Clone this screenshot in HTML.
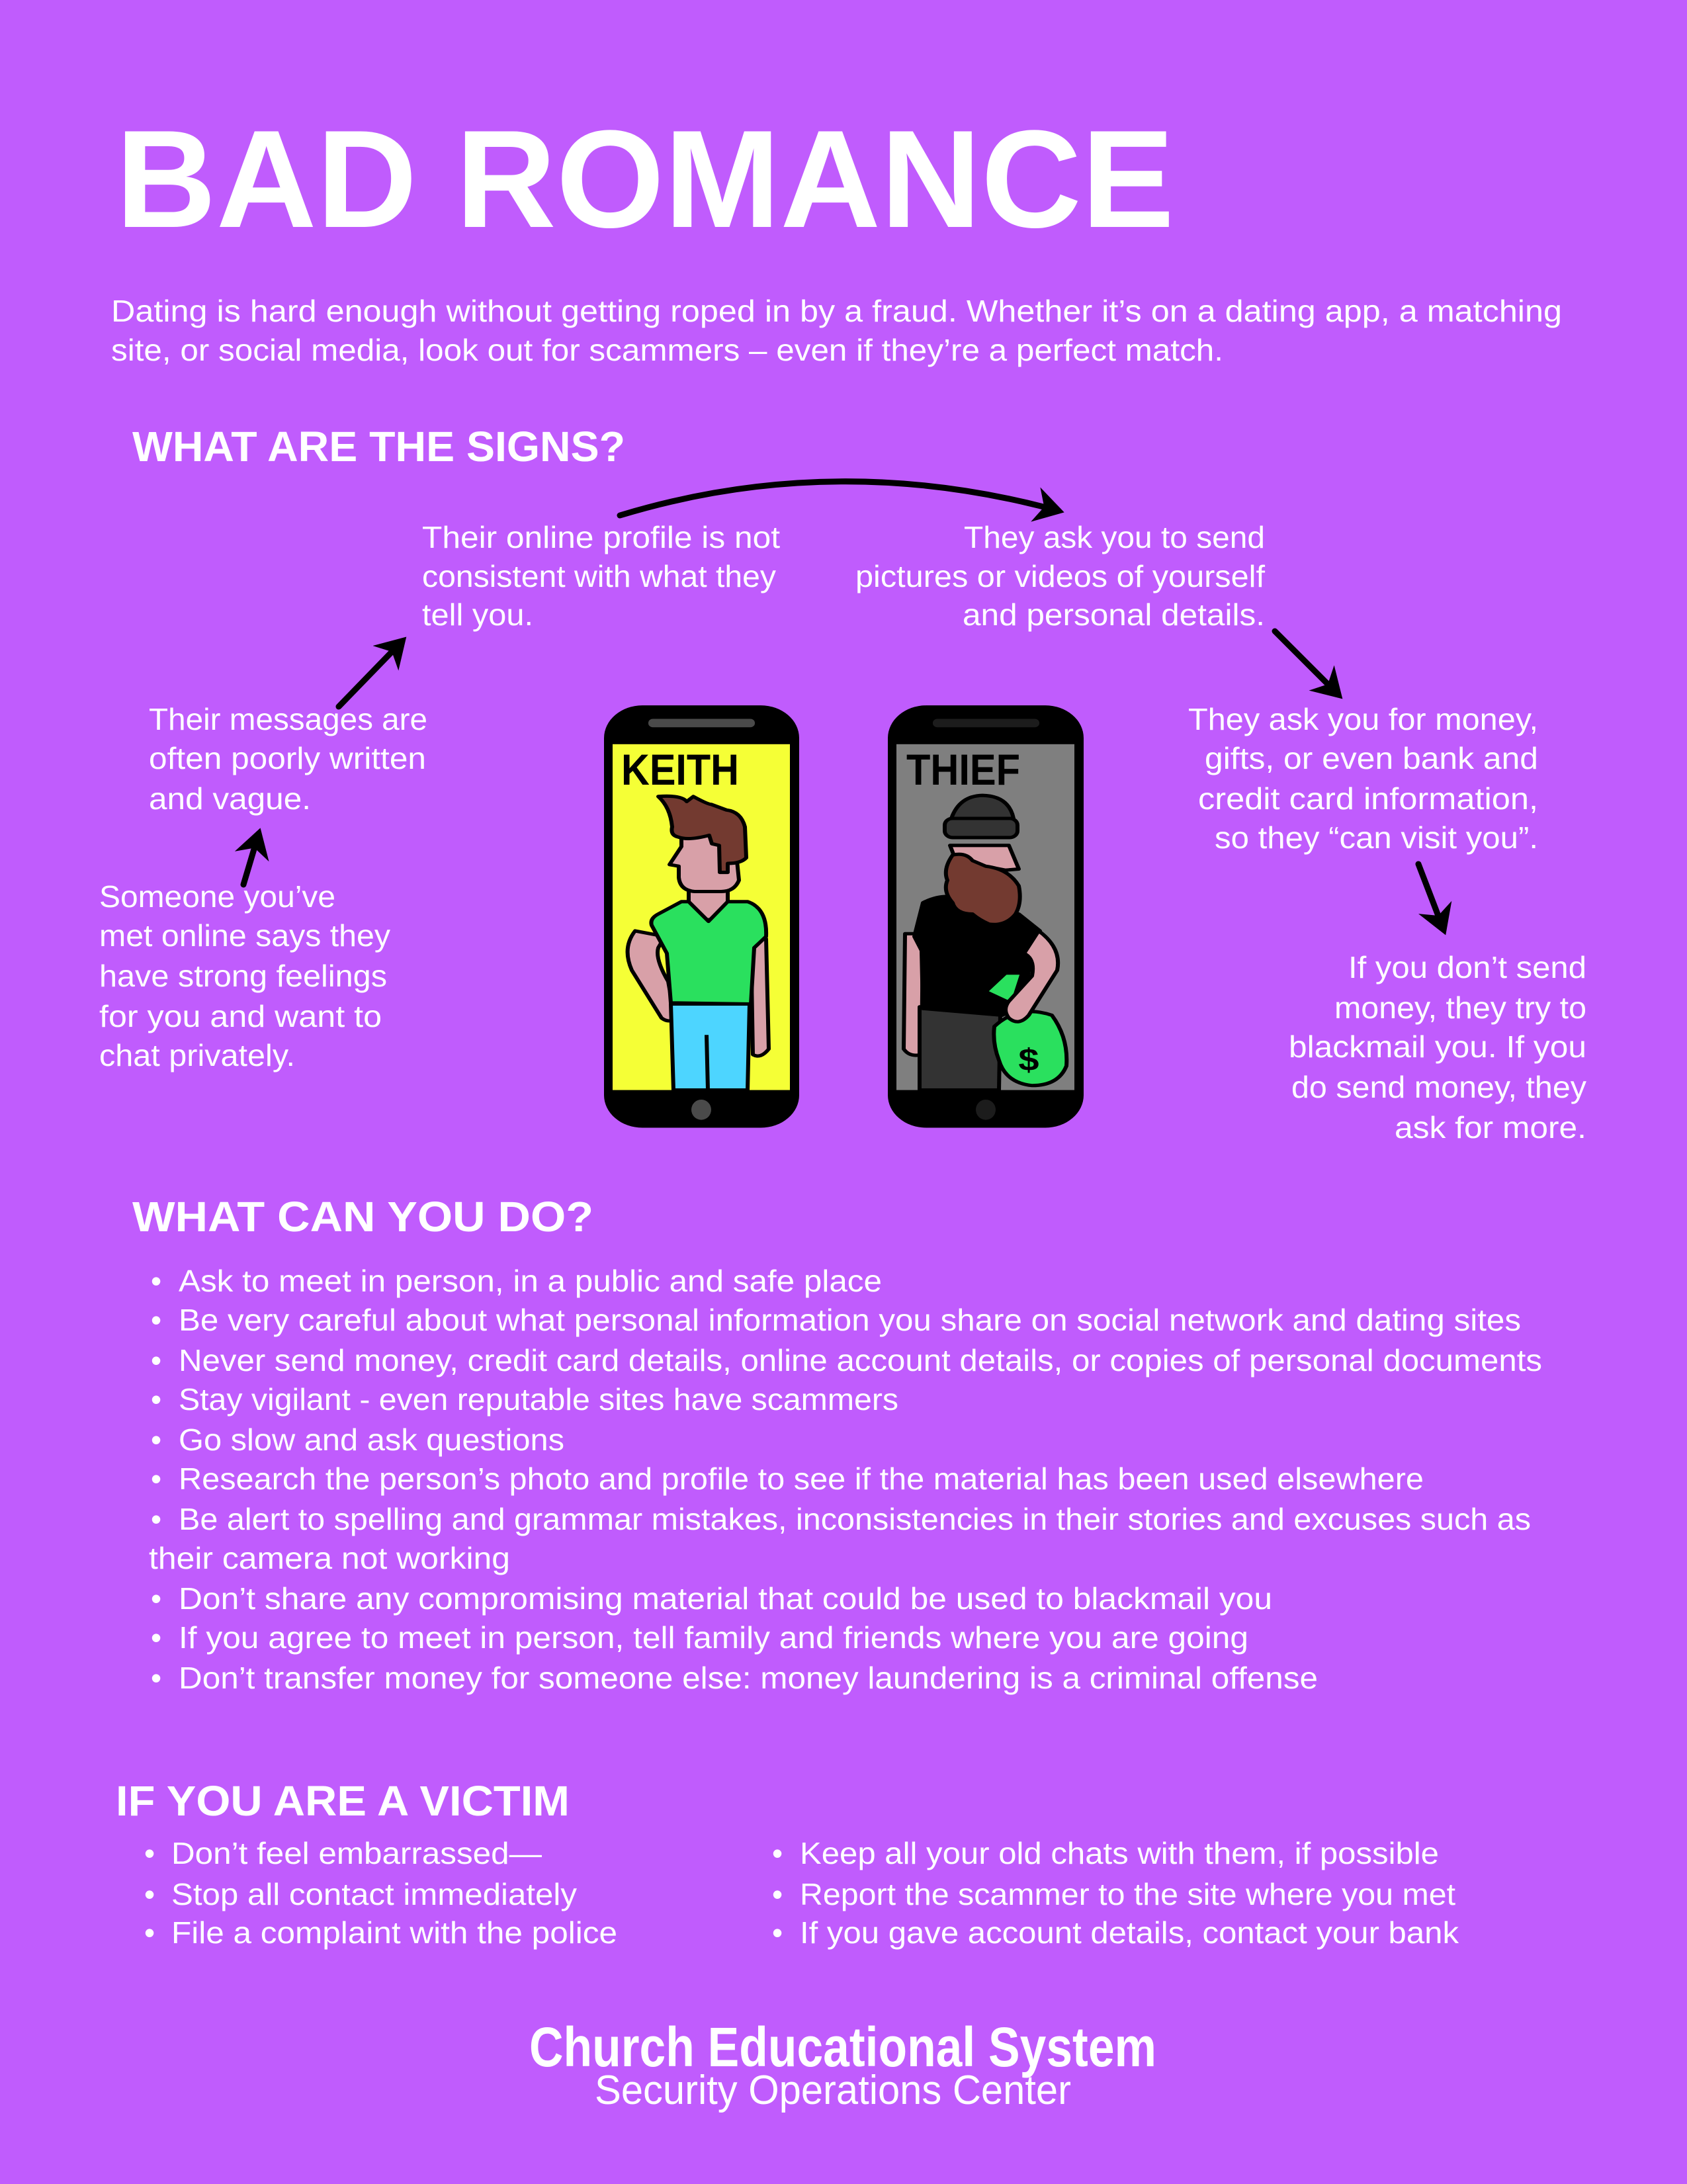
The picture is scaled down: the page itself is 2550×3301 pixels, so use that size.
<!DOCTYPE html>
<html><head><meta charset="utf-8"><style>
html,body{margin:0;padding:0;background:#c05cfd;}
svg{display:block;}
text{font-family:"Liberation Sans",sans-serif;fill:#fff;}
.b{font-size:46px;}
.h{font-size:64px;font-weight:bold;}
</style></head><body>
<svg width="2550" height="3301" viewBox="0 0 2550 3301" xmlns="http://www.w3.org/2000/svg">
<defs>
<marker id="ah" markerWidth="6" markerHeight="6" refX="4" refY="3" orient="auto" markerUnits="strokeWidth">
<path d="M0,0 L5,3 L0,6 L1.5,3 Z" fill="#000"/>
</marker>
</defs>
<rect width="2550" height="3301" fill="#c05cfd"/>

<text x="175" y="343" font-size="210" font-weight="bold" textLength="1600" lengthAdjust="spacingAndGlyphs">BAD ROMANCE</text>

<text class="b" x="168" y="486" textLength="2193" lengthAdjust="spacingAndGlyphs">Dating is hard enough without getting roped in by a fraud. Whether it’s on a dating app, a matching</text>
<text class="b" x="168" y="545" textLength="1681" lengthAdjust="spacingAndGlyphs">site, or social media, look out for scammers – even if they’re a perfect match.</text>

<text class="h" x="200" y="697" textLength="745" lengthAdjust="spacingAndGlyphs">WHAT ARE THE SIGNS?</text>

<g>
<text class="b" x="638" y="828" textLength="541" lengthAdjust="spacingAndGlyphs">Their online profile is not</text>
<text class="b" x="638" y="887" textLength="535" lengthAdjust="spacingAndGlyphs">consistent with what they</text>
<text class="b" x="638" y="945" textLength="168" lengthAdjust="spacingAndGlyphs">tell you.</text>

<text class="b" x="1457" y="828" textLength="455" lengthAdjust="spacingAndGlyphs">They ask you to send</text>
<text class="b" x="1293" y="887" textLength="619" lengthAdjust="spacingAndGlyphs">pictures or videos of yourself</text>
<text class="b" x="1455" y="945" textLength="457" lengthAdjust="spacingAndGlyphs">and personal details.</text>

<text class="b" x="225" y="1103" textLength="421" lengthAdjust="spacingAndGlyphs">Their messages are</text>
<text class="b" x="225" y="1162" textLength="419" lengthAdjust="spacingAndGlyphs">often poorly written</text>
<text class="b" x="225" y="1223" textLength="245" lengthAdjust="spacingAndGlyphs">and vague.</text>

<text class="b" x="150" y="1371" textLength="357" lengthAdjust="spacingAndGlyphs">Someone you’ve</text>
<text class="b" x="150" y="1430" textLength="440" lengthAdjust="spacingAndGlyphs">met online says they</text>
<text class="b" x="150" y="1491" textLength="435" lengthAdjust="spacingAndGlyphs">have strong feelings</text>
<text class="b" x="150" y="1552" textLength="427" lengthAdjust="spacingAndGlyphs">for you and want to</text>
<text class="b" x="150" y="1611" textLength="296" lengthAdjust="spacingAndGlyphs">chat privately.</text>

<text class="b" x="1796" y="1103" textLength="529" lengthAdjust="spacingAndGlyphs">They ask you for money,</text>
<text class="b" x="1821" y="1162" textLength="504" lengthAdjust="spacingAndGlyphs">gifts, or even bank and</text>
<text class="b" x="1811" y="1223" textLength="514" lengthAdjust="spacingAndGlyphs">credit card information,</text>
<text class="b" x="1836" y="1282" textLength="489" lengthAdjust="spacingAndGlyphs">so they “can visit you”.</text>

<text class="b" x="2038" y="1478" textLength="360" lengthAdjust="spacingAndGlyphs">If you don’t send</text>
<text class="b" x="2017" y="1539" textLength="381" lengthAdjust="spacingAndGlyphs">money, they try to</text>
<text class="b" x="1948" y="1598" textLength="450" lengthAdjust="spacingAndGlyphs">blackmail you. If you</text>
<text class="b" x="1952" y="1659" textLength="446" lengthAdjust="spacingAndGlyphs">do send money, they</text>
<text class="b" x="2108" y="1720" textLength="290" lengthAdjust="spacingAndGlyphs">ask for more.</text>
</g>

<g stroke="#000" stroke-width="9" fill="none" stroke-linecap="round" marker-end="url(#ah)">
<path d="M937,779 Q1263,680 1600,772"/>
<line x1="512" y1="1068" x2="608" y2="969"/>
<line x1="368" y1="1337" x2="391" y2="1260"/>
<line x1="1927" y1="954" x2="2023" y2="1050"/>
<line x1="2144" y1="1306" x2="2182" y2="1405"/>
</g>

<g transform="translate(0,157.5) scale(1,0.85)">
<rect x="913" y="1069" width="295" height="751" rx="58" fill="#000"/>
<rect x="926" y="1138" width="268" height="615" fill="#f5ff36"/>
<rect x="980" y="1093" width="161" height="15" rx="7" fill="#4a4a4a"/>
<ellipse cx="1060" cy="1788" rx="15" ry="18" fill="#4a4a4a"/>
<text x="939" y="1210" font-size="78" font-weight="bold" style="fill:#000" textLength="178" lengthAdjust="spacingAndGlyphs">KEITH</text>
<g stroke="#000" stroke-width="6" stroke-linejoin="round">
<path d="M960,1470 Q940,1500 955,1540 L1000,1625 Q1012,1635 1020,1625 L1010,1560 Q990,1520 995,1500 L1005,1480 Z" fill="#d8a0a8"/>
<path d="M1135,1484 L1158,1484 L1162,1680 Q1150,1698 1138,1690 Z" fill="#d8a0a8"/>
<path d="M1014,1600 L1133,1600 L1130,1753 L1018,1753 Z" fill="#4dd5ff"/>
<line x1="1068" y1="1655" x2="1070" y2="1753"/>
<path d="M1041,1390 L1100,1390 L1100,1450 L1041,1450 Z" fill="#d8a0a8"/>
<path d="M1030,1418 L1041,1418 L1071,1453 L1100,1418 L1130,1418 Q1160,1430 1158,1480 L1140,1500 L1135,1600 L1014,1598 L1008,1510 L985,1460 Q982,1448 995,1440 Z" fill="#2ae05e"/>
<path d="M1030,1300 L1110,1300 L1117,1380 Q1110,1400 1090,1400 L1050,1400 Q1028,1398 1026,1375 L1026,1355 L1012,1352 L1030,1320 Z" fill="#d8a0a8"/>
<path d="M995,1231 Q1030,1228 1038,1240 L1048,1231 Q1070,1245 1075,1245 L1098,1255 Q1120,1258 1126,1285 L1128,1340 Q1120,1350 1100,1350 L1100,1366 L1088,1366 L1087,1318 L1076,1315 L1072,1300 Q1040,1310 1025,1303 Q1013,1300 1016,1285 Q1013,1250 995,1231 Z" fill="#733a30"/>
</g>

<rect x="1342" y="1069" width="296" height="751" rx="58" fill="#000"/>
<rect x="1355" y="1138" width="269" height="615" fill="#7f7f7f"/>
<rect x="1410" y="1093" width="161" height="15" rx="7" fill="#1c1c1c"/>
<ellipse cx="1490" cy="1788" rx="15" ry="18" fill="#1c1c1c"/>
<text x="1370" y="1210" font-size="78" font-weight="bold" style="fill:#000" textLength="172" lengthAdjust="spacingAndGlyphs">THIEF</text>
<g stroke="#000" stroke-width="6" stroke-linejoin="round">
<path d="M1368,1475 L1395,1475 L1393,1690 Q1375,1695 1366,1680 Z" fill="#d8a0a8"/>
<path d="M1390,1605 L1512,1615 L1510,1753 L1390,1753 Z" fill="#333"/>
<path d="M1395,1420 Q1420,1405 1445,1410 L1540,1440 L1572,1470 L1560,1500 L1548,1600 L1515,1620 L1395,1608 L1393,1505 L1382,1480 Z" fill="#000"/>
<path d="M1490,1578 L1520,1545 L1545,1545 L1530,1600 Z" fill="#2ae05e"/>
<path d="M1503,1640 Q1540,1600 1590,1620 Q1615,1660 1612,1710 Q1600,1745 1560,1745 Q1520,1740 1510,1700 Q1500,1670 1503,1640 Z" fill="#2ae05e"/>
<path d="M1570,1470 Q1605,1500 1598,1540 L1555,1620 Q1540,1640 1525,1625 Q1515,1610 1525,1595 L1560,1550 Q1565,1520 1548,1510 Z" fill="#d8a0a8"/>
<path d="M1436,1318 L1525,1318 L1540,1360 L1520,1362 L1445,1345 Z" fill="#d8a0a8"/>
<path d="M1440,1335 Q1460,1330 1470,1345 L1490,1355 Q1525,1360 1540,1390 Q1545,1420 1535,1440 Q1520,1462 1495,1458 Q1480,1450 1470,1440 Q1445,1440 1440,1420 Q1425,1400 1432,1380 Q1425,1360 1440,1335 Z" fill="#733a30"/>
<path d="M1438,1270 Q1450,1230 1485,1229 Q1525,1230 1532,1270 Z" fill="#333"/>
<rect x="1428" y="1270" width="110" height="34" rx="12" fill="#333"/>
</g>
<text x="1555" y="1718" font-size="56" font-weight="bold" style="fill:#000" text-anchor="middle">$</text>
</g>

<text class="h" x="200" y="1861" textLength="697" lengthAdjust="spacingAndGlyphs">WHAT CAN YOU DO?</text>

<g>
<text class="b" x="228" y="1952">•</text><text class="b" x="270" y="1952" textLength="1063" lengthAdjust="spacingAndGlyphs">Ask to meet in person, in a public and safe place</text>
<text class="b" x="228" y="2011">•</text><text class="b" x="270" y="2011" textLength="2029" lengthAdjust="spacingAndGlyphs">Be very careful about what personal information you share on social network and dating sites</text>
<text class="b" x="228" y="2072">•</text><text class="b" x="270" y="2072" textLength="2061" lengthAdjust="spacingAndGlyphs">Never send money, credit card details, online account details, or copies of personal documents</text>
<text class="b" x="228" y="2131">•</text><text class="b" x="270" y="2131" textLength="1088" lengthAdjust="spacingAndGlyphs">Stay vigilant - even reputable sites have scammers</text>
<text class="b" x="228" y="2192">•</text><text class="b" x="270" y="2192" textLength="583" lengthAdjust="spacingAndGlyphs">Go slow and ask questions</text>
<text class="b" x="228" y="2251">•</text><text class="b" x="270" y="2251" textLength="1882" lengthAdjust="spacingAndGlyphs">Research the person’s photo and profile to see if the material has been used elsewhere</text>
<text class="b" x="228" y="2312">•</text><text class="b" x="270" y="2312" textLength="2044" lengthAdjust="spacingAndGlyphs">Be alert to spelling and grammar mistakes, inconsistencies in their stories and excuses such as</text>
<text class="b" x="225" y="2371" textLength="546" lengthAdjust="spacingAndGlyphs">their camera not working</text>
<text class="b" x="228" y="2432">•</text><text class="b" x="270" y="2432" textLength="1653" lengthAdjust="spacingAndGlyphs">Don’t share any compromising material that could be used to blackmail you</text>
<text class="b" x="228" y="2491">•</text><text class="b" x="270" y="2491" textLength="1617" lengthAdjust="spacingAndGlyphs">If you agree to meet in person, tell family and friends where you are going</text>
<text class="b" x="228" y="2552">•</text><text class="b" x="270" y="2552" textLength="1722" lengthAdjust="spacingAndGlyphs">Don’t transfer money for someone else: money laundering is a criminal offense</text>
</g>

<text class="h" x="175" y="2744" textLength="686" lengthAdjust="spacingAndGlyphs">IF YOU ARE A VICTIM</text>

<text class="b" x="218" y="2817">•</text><text class="b" x="259" y="2817" textLength="560" lengthAdjust="spacingAndGlyphs">Don’t feel embarrassed—</text>
<text class="b" x="218" y="2879">•</text><text class="b" x="259" y="2879" textLength="613" lengthAdjust="spacingAndGlyphs">Stop all contact immediately</text>
<text class="b" x="218" y="2937">•</text><text class="b" x="259" y="2937" textLength="674" lengthAdjust="spacingAndGlyphs">File a complaint with the police</text>
<text class="b" x="1167" y="2817">•</text><text class="b" x="1209" y="2817" textLength="966" lengthAdjust="spacingAndGlyphs">Keep all your old chats with them, if possible</text>
<text class="b" x="1167" y="2879">•</text><text class="b" x="1209" y="2879" textLength="991" lengthAdjust="spacingAndGlyphs">Report the scammer to the site where you met</text>
<text class="b" x="1167" y="2937">•</text><text class="b" x="1209" y="2937" textLength="996" lengthAdjust="spacingAndGlyphs">If you gave account details, contact your bank</text>

<text x="800" y="3123" font-size="84" font-weight="bold" textLength="948" lengthAdjust="spacingAndGlyphs">Church Educational System</text>
<text x="899" y="3180" font-size="62" textLength="720" lengthAdjust="spacingAndGlyphs">Security Operations Center</text>
</svg>
</body></html>
